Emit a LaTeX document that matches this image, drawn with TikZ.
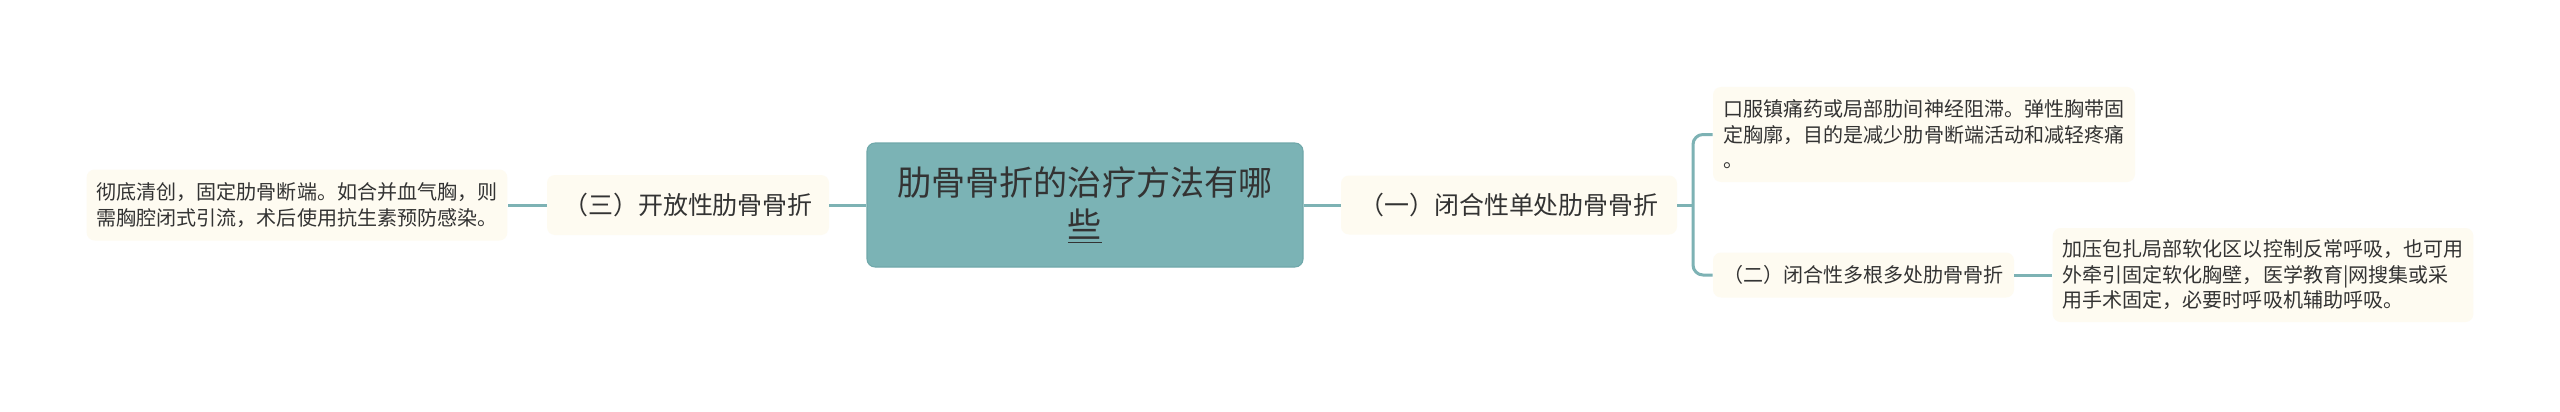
\documentclass[tikz,border=0pt]{standalone}
\usepackage{fontspec}
\setmainfont{Noto Sans CJK SC}
\usepackage{tikz}

\definecolor{rootteal}{HTML}{7BB3B5}
\definecolor{rootedge}{HTML}{6FA8AA}
\definecolor{linkteal}{HTML}{7DB2B4}
\definecolor{leafcream}{HTML}{FEFBF1}
\definecolor{inkgray}{HTML}{333333}

\begin{document}
\begin{tikzpicture}
	\def \toprow{5.53}
	\def \midrow{4.12}
	\def \lowrow{2.72}
	\path[use as bounding box, fill=white] (0,0) rectangle (51.2,8.22);

	\tikzstyle{root-node}=[rectangle,rounded corners=0.16cm,fill=rootteal,draw=rootedge,line width=0.6pt,minimum width=8.72cm,minimum height=2.48cm,align=center,text=inkgray,font=\fontsize{19.4}{23.9}\selectfont]
	\tikzstyle{sub-node}=[rectangle,rounded corners=0.16cm,fill=leafcream,minimum height=1.2cm,align=center,text=inkgray,font=\fontsize{14.2}{17}\selectfont]
	\tikzstyle{leaf-node}=[rectangle,rounded corners=0.16cm,fill=leafcream,inner xsep=0.2cm,align=left,text=inkgray,font=\fontsize{11.4}{14.5}\selectfont]
	% connectors
	\tikzstyle{link}=[draw=linkteal,line width=0.06cm]

	\node[root-node] (root) at (21.70,\midrow) {肋骨骨折的治疗方法有哪\\\underline{些}};

	% right side
	\node[sub-node,minimum width=6.72cm,minimum height=1.18cm] (closed-single) at (30.18,\midrow) {（一）闭合性单处肋骨骨折};
	\coordinate (fork) at (33.86,\midrow);
	\node[leaf-node,minimum width=8.44cm,minimum height=1.9cm] (single-care) at (38.48,\toprow)
		{口服镇痛药或局部肋间神经阻滞。弹性胸带固\\定胸廓，目的是减少肋骨断端活动和减轻疼痛\\。};
	\node[sub-node,minimum width=6.02cm,minimum height=0.9cm,font=\fontsize{11.4}{14.5}\selectfont] (closed-multi) at (37.27,\lowrow) {（二）闭合性多根多处肋骨骨折};
	\node[leaf-node,minimum width=8.4cm,minimum height=1.88cm] (multi-care) at (45.26,\lowrow)
		{加压包扎局部软化区以控制反常呼吸，也可用\\外牵引固定软化胸壁，医学教育|网搜集或采\\用手术固定，必要时呼吸机辅助呼吸。};

	% left side
	\node[sub-node,minimum width=5.64cm] (open) at (13.76,\midrow) {（三）开放性肋骨骨折};
	\node[leaf-node,minimum width=8.4cm,minimum height=1.42cm] (open-care) at (5.94,\midrow)
		{彻底清创，固定肋骨断端。如合并血气胸，则\\需胸腔闭式引流，术后使用抗生素预防感染。};

	\path[link]
		(root)		edge	(closed-single)
		(root)		edge	(open)
		(open)		edge	(open-care)
		(closed-single)	edge	(fork)
		(closed-multi)	edge	(multi-care);
	\draw[link,rounded corners=0.2cm] (single-care.west) -| (fork) |- (closed-multi.west);
\end{tikzpicture}
\end{document}
